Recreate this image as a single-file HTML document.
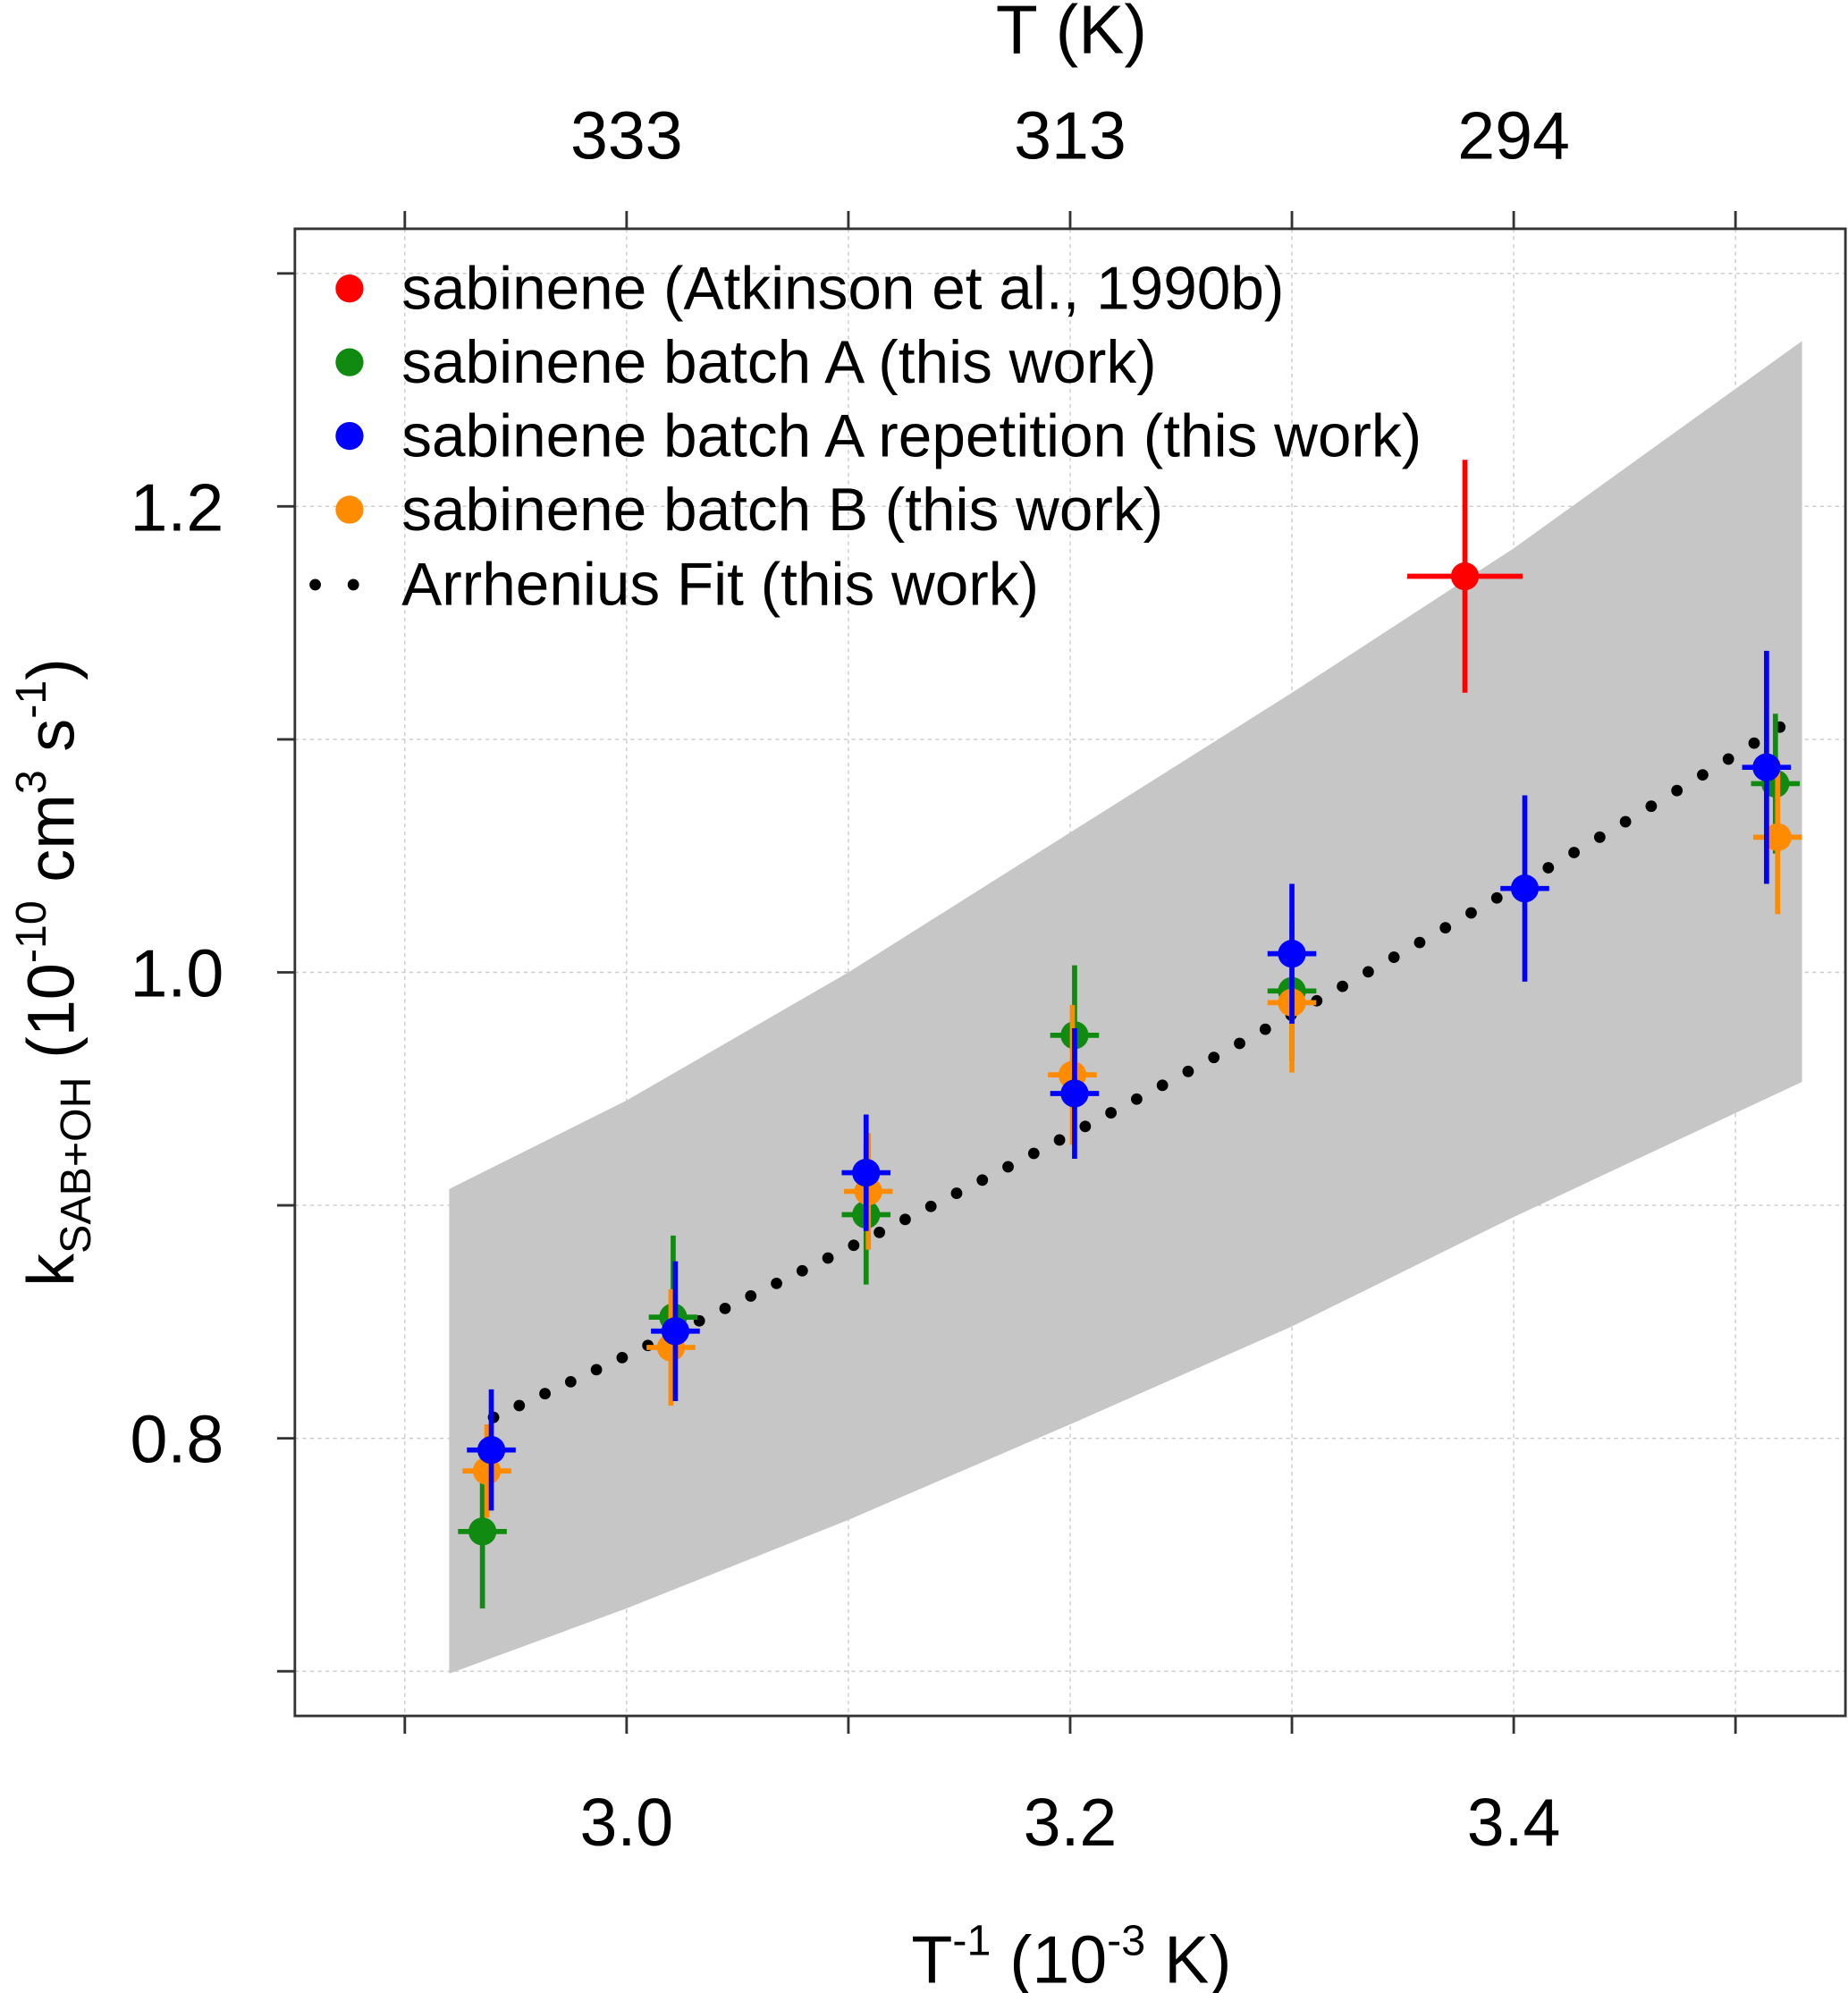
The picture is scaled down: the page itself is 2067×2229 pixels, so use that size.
<!DOCTYPE html>
<html><head><meta charset="utf-8"><style>
html,body{margin:0;padding:0;background:#fff}
svg{display:block;font-family:"Liberation Sans",Arial,sans-serif}
</style></head><body>
<svg id="chart" width="2067" height="2229" viewBox="0 0 1454 1568" xmlns="http://www.w3.org/2000/svg">
<g id="grid"></g>
<g id="band"></g>
<g id="fit"></g>
<g id="series"></g>
<g id="axes"></g>
<g id="legend"></g>
<text x="843" y="42" font-size="54" text-anchor="middle">T (K)</text>
<text x="843" y="1560" font-size="53" text-anchor="middle">T<tspan dy="-22" font-size="34">-1</tspan><tspan dy="22"> (10</tspan><tspan dy="-22" font-size="34">-3</tspan><tspan dy="22"> K)</tspan></text>
<text transform="translate(58,765) rotate(-90)" font-size="52" text-anchor="middle">k<tspan dy="13" font-size="34">SAB+OH</tspan><tspan dy="-13"> (10</tspan><tspan dy="-22" font-size="34">-10</tspan><tspan dy="22"> cm</tspan><tspan dy="-22" font-size="34">3</tspan><tspan dy="22"> s</tspan><tspan dy="-22" font-size="34">-1</tspan><tspan dy="22">)</tspan></text>
<script>
const xTicks=[2.9,3.0,3.1,3.2,3.3,3.4,3.5];
const xLabels=["","3.0","","3.2","","3.4",""];
const topLabels=["","333","","313","","294",""];
const yTicks=[0.7,0.8,0.9,1.0,1.1,1.2,1.3];
const yLabels=["","0.8","","1.0","","1.2",""];
const bandX=[2.92,3.0,3.1,3.2,3.3,3.4,3.53];
const bandUpper=[0.907,0.945,1.0,1.06,1.12,1.182,1.271];
const bandLower=[0.699,0.727,0.765,0.806,0.848,0.895,0.953];
const fitStart=2.94, fitEnd=3.52, fitA=0.809, fitB=0.538;
const redX=[3.378], redY=[1.170], redErr=[0.05], redXErr=[0.026];
const greenX=[2.935,3.021,3.108,3.202,3.30,3.518];
const greenY=[0.760,0.852,0.896,0.973,0.992,1.081];
const greenErr=[0.033,0.035,0.03,0.03,0.03,0.03];
const blueX=[2.939,3.022,3.108,3.202,3.30,3.405,3.514];
const blueY=[0.795,0.846,0.914,0.948,1.008,1.036,1.088];
const blueErr=[0.026,0.03,0.025,0.028,0.03,0.04,0.05];
const orangeX=[2.937,3.020,3.109,3.201,3.30,3.519];
const orangeY=[0.786,0.839,0.906,0.956,0.987,1.058];
const orangeErr=[0.02,0.025,0.025,0.03,0.03,0.033];

const NS="http://www.w3.org/2000/svg";
const L=232,R=1452,T=180,B=1350;
const xs=v=>493+(v-3.0)*1745;
const ys=v=>765-(v-1.0)*1833;
function mk(tag,attrs,parent){const e=document.createElementNS(NS,tag);for(const k in attrs)e.setAttribute(k,attrs[k]);parent.appendChild(e);return e;}
const grid=document.getElementById('grid'),axes=document.getElementById('axes');
xTicks.forEach((v,i)=>{
 const g=mk('line',{x1:xs(v),x2:xs(v),y1:T,y2:B,stroke:'#ccc','stroke-width':1,'stroke-dasharray':'3,3'},grid);
 
 
 const t1=mk('line',{x1:xs(v),x2:xs(v),y1:B,y2:B+14,stroke:'#333','stroke-width':2},axes);
 
 
 const t2=mk('line',{x1:xs(v),x2:xs(v),y1:T,y2:T-14,stroke:'#333','stroke-width':2},axes);
 
 
 if(xLabels[i]){const tx=mk('text',{x:xs(v),y:1452,'font-size':53,'text-anchor':'middle'},axes);tx.textContent=xLabels[i];
 
 }
 if(topLabels[i]){const tx=mk('text',{x:xs(v),y:125,'font-size':53,'text-anchor':'middle'},axes);tx.textContent=topLabels[i];
 
 }
});
yTicks.forEach((v,i)=>{
 const g=mk('line',{x1:L,x2:R,y1:ys(v),y2:ys(v),stroke:'#ccc','stroke-width':1,'stroke-dasharray':'3,3'},grid);
 
 
 const t=mk('line',{x1:L,x2:L-14,y1:ys(v),y2:ys(v),stroke:'#333','stroke-width':2},axes);
 
 
 if(yLabels[i]){const tx=mk('text',{x:176,y:ys(v)+19,'font-size':53,'text-anchor':'end'},axes);tx.textContent=yLabels[i];
 
 }
});
const frame=mk('rect',{x:L,y:T,width:R-L,height:B-T,fill:'none',stroke:'#333','stroke-width':2},axes);


let pts=bandX.map((x,i)=>xs(x)+','+ys(bandUpper[i]));
pts=pts.concat(bandX.map((x,i)=>xs(x)+','+ys(bandLower[i])).reverse());
const poly=mk('polygon',{points:pts.join(' '),fill:'#c6c6c6'},document.getElementById('band'));


const fitG=document.getElementById('fit');
const n=50;
for(let i=0;i<=n;i++){const x=fitStart+(fitEnd-fitStart)*i/n;const c=mk('circle',{cx:xs(x),cy:ys(fitA*Math.exp(fitB*(x-fitStart))),r:4.5,fill:'#000'},fitG);
 
 }
const sg=document.getElementById('series');
function series(X,Y,E,XE,color,name){
 const g=mk('g',{},sg);
 
 
 X.forEach((x,i)=>{
  const xe=XE?XE[i]:0.011;
  mk('line',{x1:xs(x),x2:xs(x),y1:ys(Y[i]-E[i]),y2:ys(Y[i]+E[i]),stroke:color,'stroke-width':4},g);
  mk('line',{x1:xs(x-xe),x2:xs(x+xe),y1:ys(Y[i]),y2:ys(Y[i]),stroke:color,'stroke-width':4},g);
  const c=mk('circle',{cx:xs(x),cy:ys(Y[i]),r:11,fill:color},g);
  
  
 });
}
series(greenX,greenY,greenErr,null,'#108a10','green-batch-a');
series(orangeX,orangeY,orangeErr,null,'#ff8c00','orange-batch-b');
series(blueX,blueY,blueErr,null,'#0000ff','blue-batch-a-repetition');
series(redX,redY,redErr,redXErr,'#ff0000','red-atkinson');
const lg=document.getElementById('legend');
const entries=[['#ff0000','sabinene (Atkinson et al., 1990b)'],['#108a10','sabinene batch A (this work)'],['#0000ff','sabinene batch A repetition (this work)'],['#ff8c00','sabinene batch B (this work)']];
entries.forEach((e,i)=>{const y=227+i*58;
 const c=mk('circle',{cx:275,cy:y,r:11,fill:e[0]},lg);
 
 
 const t=mk('text',{x:316,y:y+16,'font-size':47.5},lg);t.textContent=e[1];
 
 
});
[248,278].forEach(x=>{const c=mk('circle',{cx:x,cy:460,r:4.5,fill:'#000'},lg);
 
 });
const ft=mk('text',{x:316,y:476,'font-size':47.5},lg);ft.textContent='Arrhenius Fit (this work)';


</script>
</svg>
</body></html>
